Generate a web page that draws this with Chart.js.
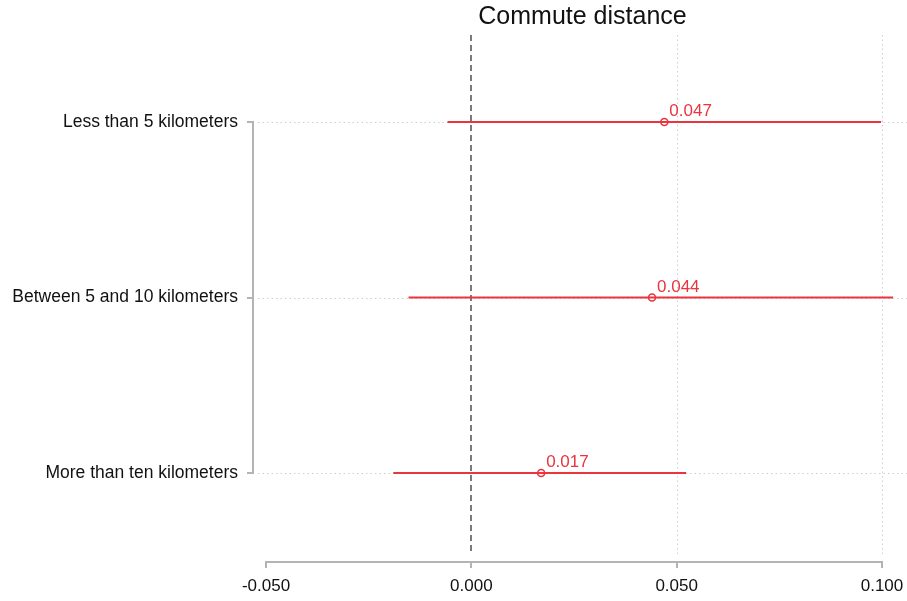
<!DOCTYPE html>
<html>
<head>
<meta charset="utf-8">
<script src="https://cdn.jsdelivr.net/npm/chart.js@4.4.1/dist/chart.umd.min.js"></script>
<style>
  html, body { margin: 0; padding: 0; background: #ffffff; }
  #wrap { width: 907px; height: 601px; }
</style>
</head>
<body>
<div id="wrap"><canvas id="coefChart" width="907" height="601"></canvas></div>
<script>
// Coefficient plot data
const categories = ['Less than 5 kilometers', 'Between 5 and 10 kilometers', 'More than ten kilometers'];
const estimates = [0.047, 0.044, 0.017];
const lowerCI = [-0.0058, -0.0153, -0.0190];
const upperCI = [0.0998, 0.1027, 0.0523];
const xTicks = [-0.05, 0, 0.05, 0.1];
const chartTitle = 'Commute distance';

const RED = 'rgb(234, 52, 62)';
const AXIS_GRAY = '#b4b4b4';
const FONT = "'Liberation Sans', Arial, sans-serif";

// one line dataset per confidence interval
const ciSets = categories.map((c, i) => ({
    type: 'line',
    label: c + ' CI',
    data: [{ x: lowerCI[i], y: i }, { x: upperCI[i], y: i }],
    borderColor: RED,
    borderWidth: 2,
    pointRadius: 0,
    fill: false
}));

const pointSet = {
    type: 'scatter',
    label: 'Estimate',
    data: estimates.map((v, i) => ({ x: v, y: i })),
    pointRadius: 3.5,
    pointBorderWidth: 1.6,
    pointBorderColor: RED,
    pointBackgroundColor: '#ffffff'
};

// gridlines, zero line and Stata-like axes drawn with the chart's scales
const axesPlugin = {
    id: 'axesPlugin',
    beforeDatasetsDraw(chart) {
        const { ctx, chartArea, scales } = chart;
        const xs = scales.x, ys = scales.y;
        ctx.save();

        // horizontal dotted gridlines
        ctx.strokeStyle = '#cfcfcf';
        ctx.lineWidth = 1;
        ctx.setLineDash([1.5, 3]);
        categories.forEach((c, i) => {
            const y = Math.round(ys.getPixelForValue(i)) + 0.5;
            ctx.beginPath();
            ctx.moveTo(chartArea.left, y);
            ctx.lineTo(chartArea.right, y);
            ctx.stroke();
        });
        // vertical dotted gridlines
        [0.05, 0.1].forEach(v => {
            const x = Math.round(xs.getPixelForValue(v)) + 0.5;
            ctx.beginPath();
            ctx.moveTo(x, chartArea.top);
            ctx.lineTo(x, chartArea.bottom);
            ctx.stroke();
        });

        // zero reference line
        ctx.strokeStyle = '#7a7a7a';
        ctx.lineWidth = 2;
        ctx.setLineDash([6, 4]);
        const x0 = Math.round(xs.getPixelForValue(0));
        ctx.beginPath();
        ctx.moveTo(x0, chartArea.top);
        ctx.lineTo(x0, chartArea.bottom);
        ctx.stroke();

        // y axis
        ctx.setLineDash([]);
        ctx.strokeStyle = AXIS_GRAY;
        ctx.lineWidth = 2;
        const ax = chartArea.left - 5;
        const yTop = ys.getPixelForValue(0), yBot = ys.getPixelForValue(categories.length - 1);
        ctx.beginPath();
        ctx.moveTo(ax, yTop - 1);
        ctx.lineTo(ax, yBot + 1);
        ctx.stroke();
        categories.forEach((c, i) => {
            const y = Math.round(ys.getPixelForValue(i));
            ctx.beginPath();
            ctx.moveTo(ax - 6, y);
            ctx.lineTo(ax, y);
            ctx.stroke();
        });

        // x axis
        const ay = chartArea.bottom + 7;
        const xl = xs.getPixelForValue(xTicks[0]), xr = xs.getPixelForValue(xTicks[xTicks.length - 1]);
        ctx.beginPath();
        ctx.moveTo(xl - 1, ay);
        ctx.lineTo(xr + 1, ay);
        ctx.stroke();
        xTicks.forEach(v => {
            const x = Math.round(xs.getPixelForValue(v));
            ctx.beginPath();
            ctx.moveTo(x, ay);
            ctx.lineTo(x, ay + 6);
            ctx.stroke();
        });
        ctx.restore();
    },
    afterDatasetsDraw(chart) {
        const { ctx, scales } = chart;
        ctx.save();
        ctx.fillStyle = RED;
        ctx.font = '17px ' + FONT;
        ctx.textAlign = 'left';
        ctx.textBaseline = 'alphabetic';
        estimates.forEach((v, i) => {
            const x = scales.x.getPixelForValue(v);
            const y = scales.y.getPixelForValue(i);
            ctx.fillText(v.toFixed(3), x + 5, y - 6);
        });
        ctx.restore();
    }
};

const chart = new Chart(document.getElementById('coefChart').getContext('2d'), {
    data: { datasets: ciSets.concat([pointSet]) },
    options: {
        responsive: false,
        animation: false,
        events: [],
        layout: { padding: 0, autoPadding: false },
        plugins: {
            legend: { display: false },
            tooltip: { enabled: false },
            title: {
                display: true,
                text: chartTitle,
                fullSize: false,
                color: '#111111',
                font: { family: FONT, size: 25, weight: 'normal', lineHeight: 1.2 },
                padding: { top: 2, bottom: 3 }
            }
        },
        scales: {
            x: {
                type: 'linear',
                min: -0.05195,
                max: 0.10609,
                afterBuildTicks: s => { s.ticks = xTicks.map(v => ({ value: v })); },
                afterFit: s => { s.height = 46; s.paddingLeft = 0; s.paddingRight = 0; },
                grid: { display: false, drawTicks: false },
                border: { display: false },
                ticks: {
                    padding: 21,
                    color: '#111111',
                    font: { family: FONT, size: 17 },
                    callback: v => Number(v).toFixed(3)
                }
            },
            y: {
                type: 'linear',
                reverse: true,
                min: -0.496,
                max: 2.467,
                afterBuildTicks: s => { s.ticks = categories.map((c, i) => ({ value: i })); },
                afterFit: s => { s.width = 258; s.paddingTop = 0; s.paddingBottom = 0; },
                grid: { display: false, drawTicks: false },
                border: { display: false },
                ticks: {
                    padding: 20,
                    color: '#111111',
                    font: { family: FONT, size: 17.5 },
                    callback: v => categories[v]
                }
            }
        }
    },
    plugins: [axesPlugin]
});
</script>
</body>
</html>
